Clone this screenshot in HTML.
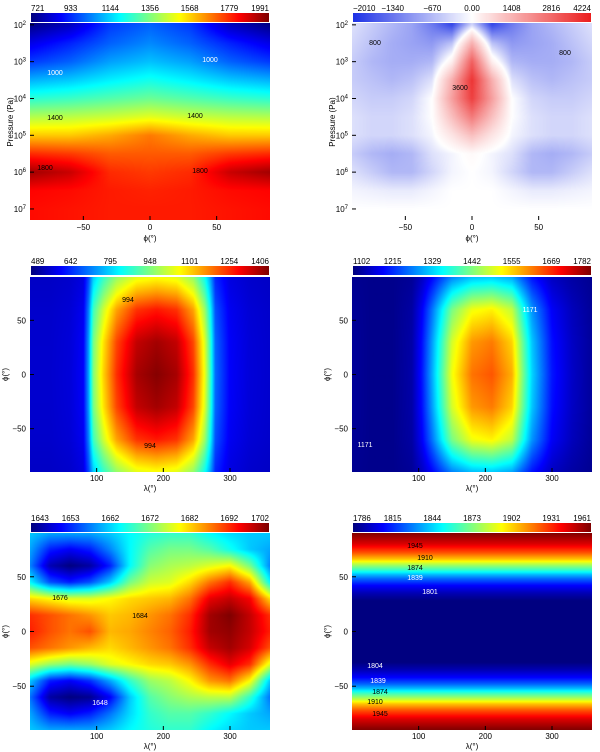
<!DOCTYPE html>
<html><head><meta charset="utf-8">
<style>
html,body{margin:0;padding:0;background:#fff;width:600px;height:752px;overflow:hidden}
#fig{position:relative;width:600px;height:752px}
canvas{position:absolute}
svg{position:absolute;left:0;top:0}
text{font-family:"Liberation Sans",sans-serif;font-size:8px;fill:#000}
</style></head>
<body>
<div id="fig">
<svg id="ov" width="600" height="752"></svg>
</div>
<script>
// ---------- Panel 1: temperature vs latitude / log pressure ----------
const p1Lat=[-90,-60,-30,0,30,60,90];
const p1LogP=[2,2.5,3,3.5,4,4.5,5,5.5,6,6.5,7];
const p1T=[
[730,800,950,1000,950,800,730],
[850,920,1000,1050,1000,920,850],
[950,1000,1080,1120,1080,1000,950],
[1100,1130,1180,1220,1180,1130,1100],
[1250,1270,1300,1330,1300,1270,1250],
[1420,1430,1450,1480,1450,1430,1420],
[1580,1580,1620,1680,1620,1580,1580],
[1780,1760,1720,1720,1720,1760,1780],
[1950,1900,1780,1760,1780,1900,1950],
[1830,1820,1800,1790,1800,1820,1830],
[1820,1810,1800,1800,1800,1810,1820]];
const p1Ticks=["721","933","1144","1356","1568","1779","1991"];
// ---------- Panel 2: zonal wind ----------
const p2Lat=[-90,-75,-60,-45,-30,-15,0,15,30,45,60,75,90];
const p2LogP=[2,2.5,3,3.5,4,4.5,5,5.5,6,6.5,7];
const p2U=[
[-300,-500,-700,-900,-1300,-1800,-400,-1800,-1300,-900,-700,-500,-300],
[-400,-600,-800,-900,-1000,-600,1500,-600,-1000,-900,-800,-600,-400],
[-500,-700,-800,-800,-700,300,3000,300,-700,-800,-800,-700,-500],
[-500,-600,-700,-600,-300,1500,3800,1500,-300,-600,-700,-600,-500],
[-400,-500,-500,-400,0,1800,3600,1800,0,-400,-500,-500,-400],
[-300,-400,-400,-300,0,1200,2500,1200,0,-300,-400,-400,-300],
[-300,-400,-400,-300,-100,500,1200,500,-100,-300,-400,-400,-300],
[-500,-700,-800,-700,-300,-100,100,-100,-300,-700,-800,-700,-500],
[-300,-500,-700,-700,-400,-100,0,-100,-400,-700,-700,-500,-300],
[-100,-150,-200,-200,-100,0,0,0,-100,-200,-200,-150,-100],
[0,0,0,0,0,0,0,0,0,0,0,0,0]];
const p2Ticks=["\u22122010","\u22121340","\u2212670","0.00","1408","2816","4224"];
// ---------- Panel 3 ----------
const p3Lon=[0,30,60,80,88,95,110,130,160,190,220,245,262,270,278,300,330,360];
const p3Lat=[90,75,60,30,0,-30,-60,-75,-90];
const p3T=[
[552,552,558,576,666,786,876,966,1038,1056,1038,966,846,756,636,576,558,552],
[554,554,562,583,691,835,943,1051,1138,1159,1138,1051,907,799,655,583,562,554],
[557,557,566,591,719,889,1016,1144,1246,1271,1246,1144,974,846,676,591,566,557],
[559,559,569,598,744,938,1083,1229,1345,1374,1345,1229,1035,889,695,598,569,559],
[560,560,570,600,750,950,1100,1250,1370,1400,1370,1250,1050,900,700,600,570,560],
[559,559,569,598,744,938,1083,1229,1345,1374,1345,1229,1035,889,695,598,569,559],
[557,557,566,591,719,889,1016,1144,1246,1271,1246,1144,974,846,676,591,566,557],
[554,554,562,583,691,835,943,1051,1138,1159,1138,1051,907,799,655,583,562,554],
[552,552,558,576,666,786,876,966,1038,1056,1038,966,846,756,636,576,558,552]];
const p3Ticks=["489","642","795","948","1101","1254","1406"];
// ---------- Panel 4 ----------
const p4Lon=[0,30,60,90,105,120,150,180,210,240,255,270,300,330,360];
const p4Lat=[90,75,60,30,0,-30,-60,-75,-90];
const p4T=[
[1114,1110,1110,1118,1146,1186,1274,1314,1322,1298,1246,1198,1146,1126,1114],
[1116,1110,1110,1122,1164,1224,1356,1416,1428,1392,1314,1242,1164,1134,1116],
[1118,1110,1110,1126,1182,1262,1438,1518,1534,1486,1382,1286,1182,1142,1118],
[1120,1110,1110,1129,1195,1290,1499,1595,1615,1556,1435,1320,1195,1148,1120],
[1120,1110,1110,1130,1200,1300,1520,1620,1640,1580,1450,1330,1200,1150,1120],
[1120,1110,1110,1129,1195,1290,1499,1595,1615,1556,1435,1320,1195,1148,1120],
[1118,1110,1110,1126,1182,1262,1438,1518,1534,1486,1382,1286,1182,1142,1118],
[1116,1110,1110,1122,1164,1224,1356,1416,1428,1392,1314,1242,1164,1134,1116],
[1114,1110,1110,1118,1146,1186,1274,1314,1322,1298,1246,1198,1146,1126,1114]];
const p4Ticks=["1102","1215","1329","1442","1555","1669","1782"];
// ---------- Panel 5 ----------
const p5Lon=[0,30,60,90,120,150,180,210,240,270,300,330,360];
const p5Lat=[90,75,60,45,30,15,0,-15,-30,-45,-60,-75,-90];
const p5T=[
[1662,1660,1660,1660,1662,1665,1667,1668,1668,1665,1663,1662,1662],
[1660,1652,1650,1652,1658,1665,1670,1672,1672,1670,1666,1662,1660],
[1658,1646,1643,1645,1652,1665,1673,1675,1676,1678,1680,1672,1658],
[1665,1655,1652,1655,1662,1672,1677,1678,1682,1688,1692,1685,1665],
[1682,1680,1678,1678,1680,1682,1683,1684,1688,1696,1698,1695,1682],
[1692,1690,1688,1686,1683,1684,1686,1688,1692,1700,1702,1698,1692],
[1693,1690,1688,1690,1684,1685,1687,1689,1693,1700,1701,1698,1693],
[1690,1688,1686,1684,1682,1684,1686,1688,1692,1698,1700,1697,1690],
[1678,1674,1672,1674,1678,1680,1682,1683,1686,1692,1696,1692,1678],
[1662,1652,1650,1653,1660,1668,1674,1676,1680,1686,1688,1680,1662],
[1657,1645,1643,1644,1650,1662,1670,1673,1675,1676,1676,1668,1657],
[1660,1652,1650,1652,1657,1663,1668,1670,1670,1668,1665,1662,1660],
[1662,1660,1660,1660,1662,1665,1667,1668,1668,1665,1663,1662,1662]];
const p5Ticks=["1643","1653","1662","1672","1682","1692","1702"];
// ---------- Panel 6 ----------
const p6Lon=[0,360];
const p6Lat=[90,80,72,66,62,56,52,48,42,35,28,0,-28,-35,-42,-48,-52,-56,-62,-66,-72,-80,-90];
const p6T=[[1961,1961],[1945,1945],[1925,1925],[1905,1905],[1885,1885],[1860,1860],[1840,1840],[1825,1825],[1808,1808],[1795,1795],[1786,1786],[1786,1786],[1786,1786],[1795,1795],[1808,1808],[1825,1825],[1840,1840],[1860,1860],[1885,1885],[1905,1905],[1925,1925],[1945,1945],[1961,1961]];
const p6Ticks=["1786","1815","1844","1873","1902","1931","1961"];

function jet(t){t=Math.max(0,Math.min(1,t));
 const r=Math.max(0,Math.min(1,Math.min(4*t-1.5,-4*t+4.5)));
 const g=Math.max(0,Math.min(1,Math.min(4*t-0.5,-4*t+3.5)));
 const b=Math.max(0,Math.min(1,Math.min(4*t+0.5,-4*t+2.5)));
 return [r*255,g*255,b*255];}
function bwr(t){t=Math.max(0,Math.min(1,t));
 if(t<0.5){const s=t/0.5;return [30+225*s,50+205*s,230+25*s];}
 const s=(t-0.5)/0.5;return [255-20*s,255-225*s,255-225*s];}
function locate(arr,v){const asc=arr[arr.length-1]>arr[0];
 for(let i=0;i<arr.length-1;i++){const a=arr[i],b=arr[i+1];
  if(asc?(v>=a&&v<=b):(v<=a&&v>=b)){return [i,(v-a)/(b-a)];}}
 return (asc?v<arr[0]:v>arr[0])?[0,0]:[arr.length-2,1];}
function interp(xs,ys,g,x,y){const [i,fx]=locate(xs,x);const [j,fy]=locate(ys,y);
 const a=g[j][i],b=g[j][i+1],c=g[j+1][i],d=g[j+1][i+1];
 return a*(1-fx)*(1-fy)+b*fx*(1-fy)+c*(1-fx)*fy+d*fx*fy;}

const fig=document.getElementById('fig');
const ov=document.getElementById('ov');
const NS='http://www.w3.org/2000/svg';
function T(x,y,s,anchor,name,rot){const t=document.createElementNS(NS,'text');
 t.setAttribute('x',x);t.setAttribute('y',y);t.setAttribute('text-anchor',anchor||'middle');
 if(rot)t.setAttribute('transform','rotate(-90 '+x+' '+y+')');
 t.textContent=s;
 
 
 ov.appendChild(t);return t;}
function L(x1,y1,x2,y2,name,col){const l=document.createElementNS(NS,'line');
 l.setAttribute('x1',x1);l.setAttribute('y1',y1);l.setAttribute('x2',x2);l.setAttribute('y2',y2);
 l.setAttribute('stroke',col||'#000');l.setAttribute('stroke-width','1');
 
 
 ov.appendChild(l);}

function panel(cfg){
 const {id,x0,y0,w,h,xs,ys,g,xd,yd,cmap,norm,ticks,cbY}=cfg;
 const c=document.createElement('canvas');c.width=w;c.height=h;
 c.style.left=x0+'px';c.style.top=y0+'px';
 
 
 fig.insertBefore(c,ov);
 const ctx=c.getContext('2d');const im=ctx.createImageData(w,h);
 const xScale=px=>xd[0]+(px+0.5)/w*(xd[1]-xd[0]);
 const yScale=py=>yd[0]+(py+0.5)/h*(yd[1]-yd[0]);
 for(let py=0;py<h;py++){const yv=yScale(py);
  for(let px=0;px<w;px++){const v=interp(xs,ys,g,xScale(px),yv);
   const col=cmap(norm(v));const k=(py*w+px)*4;
   im.data[k]=col[0];im.data[k+1]=col[1];im.data[k+2]=col[2];im.data[k+3]=255;}}
 ctx.putImageData(im,0,0);
 const cb=document.createElement('canvas');cb.width=w-2;cb.height=9;
 cb.style.left=(x0+1)+'px';cb.style.top=cbY+'px';
 
 
 fig.insertBefore(cb,ov);
 const cc=cb.getContext('2d');
 for(let i=0;i<w-2;i++){const col=cmap(i/(w-3));cc.fillStyle='rgb('+col.map(Math.round).join(',')+')';cc.fillRect(i,0,1,9);}
 ticks.forEach((s,i)=>{T(x0+1+i*(w-2)/6,cbY-2,s,i==0?'start':(i==6?'end':'middle'),id+'-colorbar-label');});
}
const tNorm=(a,b)=>v=>(v-a)/(b-a);
const uNorm=v=>v<0?0.5*(v+2010)/2010:0.5+0.5*v/4224;

panel({id:'p1',x0:30,y0:23,w:240,h:197,xs:p1Lat,ys:p1LogP,g:p1T,xd:[-90,90],yd:[1.95,7.3],norm:tNorm(721,1991),cmap:jet,ticks:p1Ticks,cbY:13});
panel({id:'p2',x0:352,y0:23,w:240,h:197,xs:p2Lat,ys:p2LogP,g:p2U,xd:[-90,90],yd:[1.95,7.3],norm:uNorm,cmap:bwr,ticks:p2Ticks,cbY:13});
panel({id:'p3',x0:30,y0:277,w:240,h:195,xs:p3Lon,ys:p3Lat,g:p3T,xd:[0,360],yd:[90,-90],norm:tNorm(489,1406),cmap:jet,ticks:p3Ticks,cbY:266});
panel({id:'p4',x0:352,y0:277,w:240,h:195,xs:p4Lon,ys:p4Lat,g:p4T,xd:[0,360],yd:[90,-90],norm:tNorm(1102,1782),cmap:jet,ticks:p4Ticks,cbY:266});
panel({id:'p5',x0:30,y0:533,w:240,h:197,xs:p5Lon,ys:p5Lat,g:p5T,xd:[0,360],yd:[90,-90],norm:tNorm(1643,1702),cmap:jet,ticks:p5Ticks,cbY:523});
panel({id:'p6',x0:352,y0:533,w:240,h:197,xs:p6Lon,ys:p6Lat,g:p6T,xd:[0,360],yd:[90,-90],norm:tNorm(1786,1961),cmap:jet,ticks:p6Ticks,cbY:523});

[[30,'p1'],[352,'p2']].forEach(([x0,id])=>{
 [-50,0,50].forEach(v=>{const x=x0+(v+90)/180*240;
  L(x,220,x,216,id+'-x-tick');
  T(x,230,v<0?'\u221250':String(v),'middle',id+'-x-tick-label');});
 T(x0+120,241,'\u03d5(\u00b0)','middle',id+'-x-axis-title');
 [2,3,4,5,6,7].forEach(p=>{const y=23+(p-1.95)/(7.3-1.95)*197;
  L(x0,y,x0+4,y,id+'-y-tick');
  const t=T(x0-4,y+3,'10','end',id+'-y-tick-label');
  const s=document.createElementNS(NS,'tspan');s.setAttribute('dy','-3');s.setAttribute('font-size','6');s.textContent=p;t.appendChild(s);});
 T(x0-17,122,'Pressure (Pa)','middle',id+'-y-axis-title',true);
});
[[30,277,195,'p3'],[352,277,195,'p4'],[30,533,197,'p5'],[352,533,197,'p6']].forEach(([x0,y0,h,id])=>{
 [100,200,300].forEach(v=>{const x=x0+v/360*240;
  L(x,y0+h,x,y0+h-4,id+'-x-tick');
  T(x,y0+h+9,String(v),'middle',id+'-x-tick-label');});
 T(x0+120,y0+h+19,'\u03bb(\u00b0)','middle',id+'-x-axis-title');
 [50,0,-50].forEach(v=>{const y=y0+(90-v)/180*h;
  L(x0,y,x0+4,y,id+'-y-tick');
  T(x0-4,y+3,v<0?'\u221250':String(v),'end',id+'-y-tick-label');});
 T(x0-22,y0+h/2,'\u03d5(\u00b0)','middle',id+'-y-axis-title',true);
});
[[55,75,'1000','#fff'],[210,62,'1000','#fff'],[55,120,'1400','#000'],[195,118,'1400','#000'],[45,170,'1800','#000'],[200,173,'1800','#000'],
 [375,45,'800','#000'],[565,55,'800','#000'],[460,90,'3600','#000'],
 [128,302,'994','#000'],[150,448,'994','#000'],[20,458,'582','#fff'],
 [530,312,'1171','#fff'],[365,447,'1171','#fff'],
 [140,618,'1684','#000'],[60,600,'1676','#000'],[100,705,'1648','#fff'],
 [415,548,'1945','#000'],[425,560,'1910','#000'],[415,570,'1874','#000'],[415,580,'1839','#fff'],[430,594,'1801','#fff'],
 [375,668,'1804','#fff'],[378,683,'1839','#fff'],[380,694,'1874','#000'],[375,704,'1910','#000'],[380,716,'1945','#000']
].forEach(([x,y,s,c])=>{const t=T(x,y,s,'middle','contour-label');t.setAttribute('style','fill:'+c+';font-size:7px');});
</script>
</body></html>
